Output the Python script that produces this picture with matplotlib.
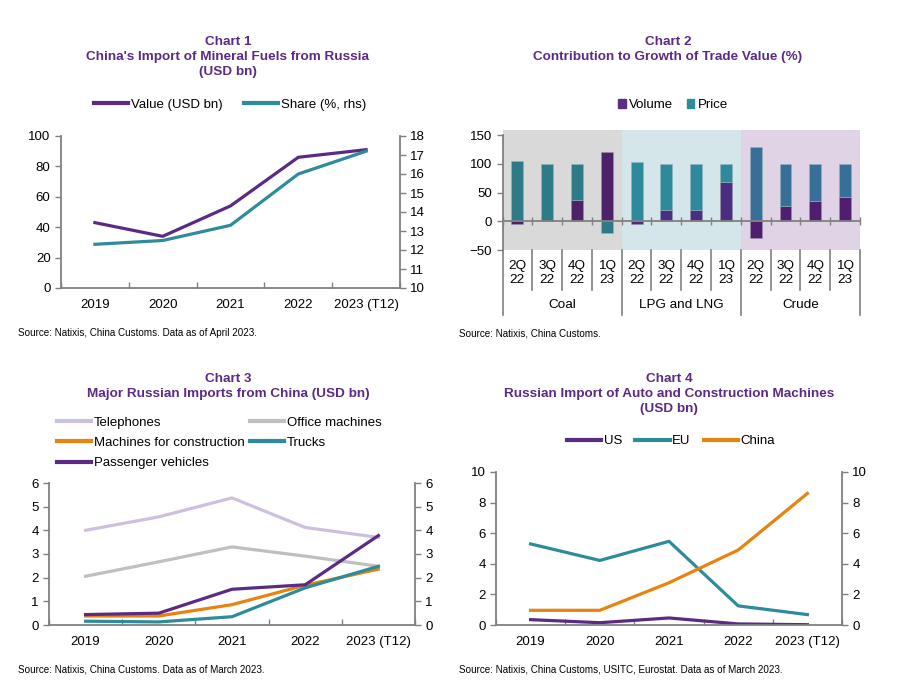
import matplotlib
matplotlib.use("Agg")
import matplotlib.pyplot as plt
from matplotlib.lines import Line2D
from matplotlib.patches import Patch

plt.rcParams['font.family'] = ['Liberation Sans', 'DejaVu Sans']

PURPLE = '#5B2A84'
TEAL = '#2E8B9A'
ORANGE = '#E8830F'
GREY = '#BFBFBF'
LAVENDER = '#CDC0DD'
AXIS = '#808080'
TITLE_C = '#5B2A84'

W, H = 919, 699

# ---------- data ----------
years = ['2019', '2020', '2021', '2022', '2023 (T12)']

# chart 1
fuel_value = [43, 34, 54, 86, 91]
fuel_share = [12.3, 12.5, 13.3, 16.0, 17.2]

# chart 2
quarters = ['2Q\n22', '3Q\n22', '4Q\n22', '1Q\n23'] * 3
groups = ['Coal', 'LPG and LNG', 'Crude']
volume = [-5, 0, 37, 120, -4, 19, 20, 69, -29, 26, 36, 43]
price = [105, 100, 63, -20, 104, 81, 80, 31, 129, 74, 64, 57]

# chart 3
telephones = [4.0, 4.57, 5.37, 4.12, 3.7]
office = [2.06, 2.67, 3.3, 2.91, 2.48]
construction = [0.38, 0.38, 0.86, 1.68, 2.36]
trucks = [0.16, 0.13, 0.35, 1.57, 2.48]
passenger = [0.44, 0.5, 1.51, 1.7, 3.78]

# chart 4
us = [0.35, 0.15, 0.46, 0.07, 0.02]
eu = [5.3, 4.22, 5.47, 1.25, 0.68]
china = [0.96, 0.96, 2.76, 4.9, 8.6]


def px_axes(fig, left, top, right, bottom):
    return fig.add_axes([left / W, (H - bottom) / H, (right - left) / W, (bottom - top) / H])


def fig_text(fig, x, y, s, **kw):
    fig.text(x / W, (H - y) / H, s, **kw)


def title(fig, xc, ys, lines):
    for y, s in zip(ys, lines):
        fig_text(fig, xc, y, s, ha='center', va='center', fontsize=9.7,
                 fontweight='bold', color=TITLE_C)


def style_axes(ax):
    ax.spines['top'].set_visible(False)
    for s in ['left', 'right', 'bottom']:
        ax.spines[s].set_color(AXIS)
        ax.spines[s].set_linewidth(1.3)
    ax.tick_params(colors=AXIS, labelcolor='black', labelsize=9.5, length=4, width=1)


def year_xaxis(ax):
    n = len(years)
    ax.set_xlim(-0.5, n - 0.5)
    ax.set_xticks([i - 0.5 for i in range(n + 1)])
    ax.set_xticklabels([])
    ax.set_xticks(range(n), minor=True)
    ax.set_xticklabels(years, minor=True)
    ax.tick_params(axis='x', which='minor', length=0, pad=8, labelsize=9.5)
    ax.tick_params(axis='x', which='major', direction='in', length=4)


def legend(ax, handles, labels, xc, yc, ncol, colsp=1.6, **kw):
    opts = dict(handlelength=2.6, handletextpad=0.2)
    opts.update(kw)
    return ax.legend(handles, labels, loc='center', bbox_to_anchor=(xc / W, (H - yc) / H),
                     bbox_transform=ax.figure.transFigure, ncol=ncol, frameon=False,
                     fontsize=9.5, columnspacing=colsp, borderpad=0, **opts)


fig = plt.figure(figsize=(W / 100, H / 100), dpi=100)

# ========== Chart 1 ==========
title(fig, 228, [42, 57, 72], ['Chart 1', "China's Import of Mineral Fuels from Russia", '(USD bn)'])
ax1 = px_axes(fig, 61, 136, 400, 288)
style_axes(ax1)
x = range(len(years))
ax1.plot(x, fuel_value, color=PURPLE, lw=2.3)
ax1.set_ylim(0, 100)
ax1.set_yticks(range(0, 101, 20))
year_xaxis(ax1)
ax1b = ax1.twinx()
style_axes(ax1b)
ax1b.plot(x, fuel_share, color=TEAL, lw=2.3)
ax1b.set_ylim(10, 18)
ax1b.set_yticks(range(10, 19))
ax1.spines['right'].set_visible(False)
ax1b.spines['left'].set_visible(False)
ax1b.spines['bottom'].set_visible(False)
legend(ax1b, [Line2D([], [], color=PURPLE, lw=3), Line2D([], [], color=TEAL, lw=3)],
       ['Value (USD bn)', 'Share (%, rhs)'], 230, 105, 2)
fig_text(fig, 18, 333, 'Source: Natixis, China Customs. Data as of April 2023.', fontsize=7.1, va='center')

# ========== Chart 2 ==========
title(fig, 668, [42, 57], ['Chart 2', 'Contribution to Growth of Trade Value (%)'])
ax2 = px_axes(fig, 502.5, 130, 860, 250)
style_axes(ax2)
ax2.spines['right'].set_visible(False)
ax2.set_ylim(-50, 159)
ax2.spines['left'].set_bounds(-50, 150)
ax2.set_yticks(range(-50, 151, 50))
ax2.set_xlim(-0.5, len(quarters) - 0.5)
shade = ['#D9D9D9', '#D5E6EA', '#E0D3E6']
price_c = ['#2E7A86', '#2E8A9A', '#386F96']
vol_c = ['#4E2266', '#4B2E80', '#501E6F']
for g in range(3):
    ax2.axvspan(4 * g - 0.5, 4 * g + 3.5, color=shade[g], lw=0, zorder=0)
for i in range(len(quarters)):
    g = i // 4
    v, p = volume[i], price[i]
    ax2.bar(i, v, width=0.4, color=vol_c[g], edgecolor='#9A8FB0', lw=0.4, zorder=2)
    base = max(v, 0) if p >= 0 else min(v, 0)
    ax2.bar(i, p, bottom=base, width=0.4, color=price_c[g], edgecolor='#8FB5C0', lw=0.4, zorder=2)
ax2.spines['bottom'].set_position(('data', 0))
ax2.set_xticks([i - 0.5 for i in range(len(quarters) + 1)])
ax2.set_xticklabels([])
ax2.tick_params(axis='x', direction='inout', length=6)
ax2.spines['bottom'].set_zorder(3)
tr = ax2.get_xaxis_transform()
for i in range(len(quarters) + 1):
    ylow = -0.54 if i % 4 == 0 else -0.33
    ax2.plot([i - 0.5, i - 0.5], [0, ylow], transform=tr, color=AXIS, lw=1.2, clip_on=False)
for i, q in enumerate(quarters):
    ax2.text(i, -0.19, q, transform=tr, ha='center', va='center', fontsize=9.7, linespacing=1.2)
for g, name in enumerate(groups):
    ax2.text(4 * g + 1.5, -0.46, name, transform=tr, ha='center', va='center', fontsize=9.7)
legend(ax2, [Patch(color='#5C2D82'), Patch(color=TEAL)], ['Volume', 'Price'], 673, 105, 2,
       colsp=1.0, handlelength=0.6, handleheight=0.6, handletextpad=0.25)
fig_text(fig, 459, 333, 'Source: Natixis, China Customs.', fontsize=7.1, va='center')

# ========== Chart 3 ==========
title(fig, 228, [379, 394], ['Chart 3', 'Major Russian Imports from China (USD bn)'])
ax3 = px_axes(fig, 49, 483, 415, 625)
style_axes(ax3)
series3 = [(telephones, LAVENDER), (office, GREY), (construction, ORANGE), (trucks, TEAL), (passenger, PURPLE)]
for vals, c in series3:
    ax3.plot(x, vals, color=c, lw=2.3)
ax3.set_ylim(0, 6)
ax3.set_yticks(range(7))
year_xaxis(ax3)
ax3b = ax3.twinx()
style_axes(ax3b)
ax3b.set_ylim(0, 6)
ax3b.set_yticks(range(7))
ax3b.spines['left'].set_visible(False)
ax3b.spines['bottom'].set_visible(False)
ax3.spines['right'].set_visible(False)
labels3 = ['Telephones', 'Office machines', 'Machines for construction', 'Trucks', 'Passenger vehicles']
h3 = [Line2D([], [], color=c, lw=3) for _, c in series3]
order = [0, 2, 4, 1, 3]  # legend fills column by column
ax3b.legend([h3[k] for k in order], [labels3[k] for k in order], loc='upper left',
            bbox_to_anchor=(50 / W, (H - 410) / H),
            bbox_transform=fig.transFigure, ncol=2, frameon=False, fontsize=9.5,
            handlelength=2.6, handletextpad=0.2, columnspacing=0.4, borderpad=0,
            labelspacing=0.6)
fig_text(fig, 18, 669, 'Source: Natixis, China Customs. Data as of March 2023.', fontsize=7.1, va='center')

# ========== Chart 4 ==========
title(fig, 669, [379, 394, 409], ['Chart 4', 'Russian Import of Auto and Construction Machines', '(USD bn)'])
ax4 = px_axes(fig, 496, 472, 842, 625)
style_axes(ax4)
series4 = [(us, PURPLE), (eu, TEAL), (china, ORANGE)]
for vals, c in series4:
    ax4.plot(x, vals, color=c, lw=2.3)
ax4.set_ylim(0, 10)
ax4.set_yticks(range(0, 11, 2))
year_xaxis(ax4)
ax4b = ax4.twinx()
style_axes(ax4b)
ax4b.set_ylim(0, 10)
ax4b.set_yticks(range(0, 11, 2))
ax4b.spines['left'].set_visible(False)
ax4b.spines['bottom'].set_visible(False)
ax4.spines['right'].set_visible(False)
legend(ax4b, [Line2D([], [], color=c, lw=3) for _, c in series4], ['US', 'EU', 'China'], 671, 441, 3, colsp=1.0)
fig_text(fig, 459, 669, 'Source: Natixis, China Customs, USITC, Eurostat. Data as of March 2023.', fontsize=7.1, va='center')

fig.savefig('out.png', dpi=100)
